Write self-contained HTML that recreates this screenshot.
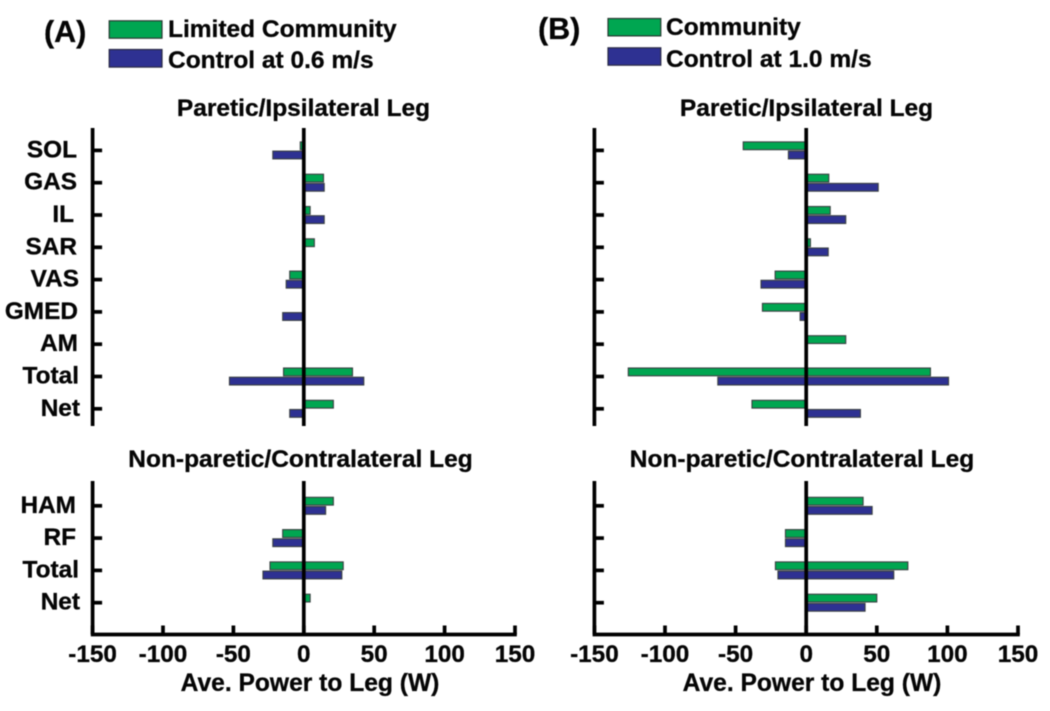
<!DOCTYPE html>
<html lang="en">
<head>
<meta charset="utf-8">
<title>Average Power to Leg</title>
<style>
html,body{margin:0;padding:0;background:#fff;width:1050px;height:711px;overflow:hidden}
svg{display:block;filter:blur(0.4px)}
text{font-family:"Liberation Sans",sans-serif;font-weight:bold;fill:#050505;stroke:#050505;stroke-width:0.3px}
.leg{font-size:24.5px}
.ttl{font-size:24.5px;text-anchor:middle}
.tick{font-size:24.3px;text-anchor:middle}
.cat{font-size:24.4px;text-anchor:end}
.xttl{font-size:24.6px;text-anchor:middle}
.panel{font-size:30.5px}
</style>
</head>
<body>
<svg id="chart" width="1050" height="711" viewBox="0 0 1050 711" xmlns="http://www.w3.org/2000/svg">
  <text class="panel" x="44" y="42">(A)</text>
  <rect x="109.2" y="20.8" width="52.8" height="17.4" fill="#00a651" stroke="#2a3a33" stroke-width="1.2"/>
  <text class="leg" x="168" y="37">Limited Community</text>
  <rect x="109.2" y="49.5" width="52.8" height="17.6" fill="#2e3192" stroke="#2a2a44" stroke-width="1.2"/>
  <text class="leg" x="168" y="68">Control at 0.6 m/s</text>

  <text class="panel" x="538" y="39">(B)</text>
  <rect x="608" y="18.5" width="52.8" height="17.4" fill="#00a651" stroke="#2a3a33" stroke-width="1.2"/>
  <text class="leg" x="666" y="35">Community</text>
  <rect x="608" y="47.8" width="52.8" height="17.4" fill="#2e3192" stroke="#2a2a44" stroke-width="1.2"/>
  <text class="leg" x="666" y="67">Control at 1.0 m/s</text>

  <text class="ttl" x="303.5" y="116">Paretic/Ipsilateral Leg</text>
  <text class="ttl" x="300.5" y="467">Non-paretic/Contralateral Leg</text>
  <text class="ttl" x="806.5" y="116">Paretic/Ipsilateral Leg</text>
  <text class="ttl" x="802" y="467">Non-paretic/Contralateral Leg</text>
  <text class="xttl" x="310" y="691">Ave. Power to Leg (W)</text>
  <text class="xttl" x="812" y="691">Ave. Power to Leg (W)</text>
  <g id="plot"></g>
</svg>
<script>
// Categories and tick labels
const upperCategories = ["SOL","GAS","IL","SAR","VAS","GMED","AM","Total","Net"];
const lowerCategories = ["HAM","RF","Total","Net"];
const xTickValues = [-150,-100,-50,0,50,100,150];

// Panel A, upper (0 = no bar; the "Neg" arrays hold the negative half of Total rows)
const aUpperGreen = [-2.5,14,4.5,7.5,-10,0,0,34.6,21];
const aUpperGreenNeg = [0,0,0,0,0,0,0,-14.4,0];
const aUpperBlue = [-22,14.5,14.5,0,-12.5,-15,0,42.6,-10];
const aUpperBlueNeg = [0,0,0,0,0,0,0,-52.8,0];
// Panel A, lower
const aLowerGreen = [21,-15,28,4.5];
const aLowerGreenNeg = [0,0,-24,0];
const aLowerBlue = [15.5,-22,27,0];
const aLowerBlueNeg = [0,0,-29,0];
// Panel B, upper
const bUpperGreen = [-44.6,16,17,3,-22,-31,28,88,-38.4];
const bUpperGreenNeg = [0,0,0,0,0,0,0,-126,0];
const bUpperBlue = [-12.6,51,28,15.6,-32,-4.3,0,100.8,38.4];
const bUpperBlueNeg = [0,0,0,0,0,0,0,-62.6,0];
// Panel B, lower
const bLowerGreen = [40.3,-14.7,72,50];
const bLowerGreenNeg = [0,0,-21.8,0];
const bLowerBlue = [46.7,-14.7,62,41.7];
const bLowerBlueNeg = [0,0,-20,0];

const NS = "http://www.w3.org/2000/svg";
const plot = document.getElementById("plot");
const GREEN = "#00a651", BLUE = "#2e3192";
const LABEL_RIGHT = 78;
const labelNudge = {SOL:-1,GAS:-1,IL:-4,SAR:-1,VAS:1,AM:0,Total:1,Net:2,HAM:-2,RF:-2,GMED:0};

function mk(tag, attrs, name) {
  const el = document.createElementNS(NS, tag);
  for (const k in attrs) el.setAttribute(k, attrs[k]);
  
  
  plot.appendChild(el);
  return el;
}
function line(x1, y1, x2, y2, name) {
  return mk("line", {x1, y1, x2, y2, stroke:"#000", "stroke-width":3.7}, name);
}
function bar(xs, v, yc, color, name) {
  if (!v) return;
  const x0 = xs(0), x1 = xs(v);
  mk("rect", {x:Math.min(x0,x1), y:yc-3.9, width:Math.abs(x1-x0), height:7.8,
    fill:color, stroke:"#3a4042", "stroke-width":1.1}, name);
}
function drawGroup(prefix, xs, yTop, yBottom, firstTick, step, cats, gPos, gNeg, bPos, bNeg, showLabels) {
  const ys = i => firstTick + i * step;
  cats.forEach((c, i) => {
    const slug = prefix + "-" + c.toLowerCase();
    bar(xs, gPos[i], ys(i) - 4.6, GREEN, slug + "-bar-green");
    bar(xs, gNeg[i], ys(i) - 4.6, GREEN, slug + "-bar-green-negative");
    bar(xs, bPos[i], ys(i) + 4.6, BLUE, slug + "-bar-blue");
    bar(xs, bNeg[i], ys(i) + 4.6, BLUE, slug + "-bar-blue-negative");
    line(xs(-150), ys(i), xs(-150) + 9.5, ys(i), slug + "-tick");
    if (showLabels) {
      const t = mk("text", {class:"cat", x:LABEL_RIGHT + labelNudge[c], y:ys(i) + 7}, slug + "-label");
      t.textContent = c;
    }
  });
  line(xs(-150), yTop, xs(-150), yBottom, prefix + "-y-axis");
  line(xs(0), yTop, xs(0), yBottom, prefix + "-zero-line");
}
function drawXAxis(prefix, xs, y) {
  line(xs(-150) - 1.8, y, xs(150) + 1.8, y, prefix + "-x-axis");
  xTickValues.forEach(v => {
    line(xs(v), y, xs(v), y - 9, prefix + "-x-tick-" + v);
    const t = mk("text", {class:"tick", x:xs(v), y:662}, prefix + "-x-label-" + v);
    t.textContent = String(v);
  });
}
const xA = v => 303.8 + v * (211.2 / 150);
const xB = v => 806.2 + v * (211.8 / 150);

drawGroup("a-upper", xA, 128, 426, 150.4, 32.3, upperCategories, aUpperGreen, aUpperGreenNeg, aUpperBlue, aUpperBlueNeg, true);
drawGroup("a-lower", xA, 481, 634, 505.8, 32.3, lowerCategories, aLowerGreen, aLowerGreenNeg, aLowerBlue, aLowerBlueNeg, true);
drawXAxis("a", xA, 634.5);
drawGroup("b-upper", xB, 128, 426, 150.4, 32.3, upperCategories, bUpperGreen, bUpperGreenNeg, bUpperBlue, bUpperBlueNeg, false);
drawGroup("b-lower", xB, 481, 634, 505.8, 32.3, lowerCategories, bLowerGreen, bLowerGreenNeg, bLowerBlue, bLowerBlueNeg, false);
drawXAxis("b", xB, 634.5);
</script>
</body>
</html>
